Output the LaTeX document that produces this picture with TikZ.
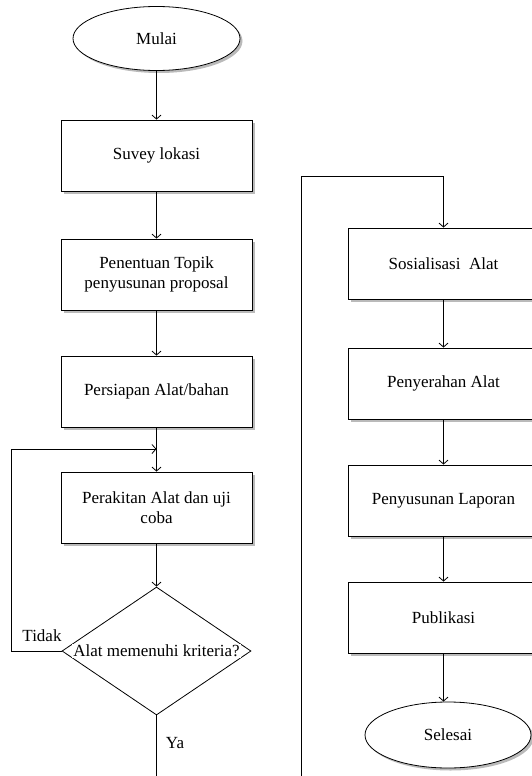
\documentclass[tikz,border=0pt]{standalone}
\usepackage{fontspec}
\setmainfont{Liberation Serif}
\usetikzlibrary{arrows.meta, shapes.geometric, shadows, positioning}

\begin{document}
\begin{tikzpicture}[x=1pt,y=-1pt,on grid,node distance=117pt,line width=0.8pt,
      >={Straight Barb[length=4pt,width=9pt]},font=\fontsize{17}{20}\selectfont,
      bayang/.style={drop shadow={shadow xshift=2.5pt,shadow yshift=-2.5pt,fill=black!60,opacity=0.45}},
      proses/.style={draw,fill=white,bayang,minimum width=191pt,minimum height=71pt,align=center},
      terminal/.style={draw,ellipse,fill=white,bayang,minimum width=167pt,minimum height=64pt},
      keputusan/.style={draw,diamond,fill=white,minimum width=189pt,minimum height=128pt,inner sep=0pt}]
      \useasboundingbox (0,0) rectangle (531,776);
      % kolom kiri
      \node[terminal] (mulai) at (156.5,38.5) {Mulai};
      \node[proses] (survei)    [below=of mulai]     {Suvey lokasi};
      \node[proses] (topik)     [below=119pt of survei] {Penentuan Topik\\penyusunan proposal};
      \node[proses] (persiapan) [below=of topik]     {Persiapan Alat/bahan};
      \node[proses] (rakit)     [below=116pt of persiapan] {Perakitan Alat dan uji\\coba};
      \node[keputusan] (cek)    [below=143.5pt of rakit] {};
      \node[fill=white,inner sep=1pt] (cekteks) at (cek) {Alat memenuhi kriteria?};
      \node (tidak) at (42,636) {Tidak};
      \node (ya) at (175,743) {Ya};
      \coordinate (balik) at (156.5,449);
      \coordinate (bawahkiri) at (156.5,776);
      % kolom kanan
      \node[proses] (sosialisasi) at (443.5,263.5) {Sosialisasi\ \ Alat};
      \node[proses] (serah)   [below=120pt of sosialisasi] {Penyerahan Alat};
      \node[proses] (laporan) [below=of serah]   {Penyusunan Laporan};
      \node[proses] (publik)  [below=of laporan] {Publikasi};
      \node[terminal,minimum width=166pt,minimum height=66pt] (selesai) at (448,735) {Selesai};
      \coordinate (bawahkanan) at (301,776);
      \coordinate (atas) at (301,176);
      \path[->]
      (mulai) edge (survei)
      (survei) edge (topik)
      (topik) edge (persiapan)
      (persiapan) edge (rakit)
      (rakit) edge (cek)
      (sosialisasi) edge (serah)
      (serah) edge (laporan)
      (laporan) edge (publik)
      (publik) edge (publik.south |- selesai.north);
      \draw[->] (cek.west) -- ++(-50,0) |- (balik);
      \draw (cek.south) -- (bawahkiri);
      \draw[->] (bawahkanan) -- (atas) -| (sosialisasi.north);
\end{tikzpicture}
\end{document}
